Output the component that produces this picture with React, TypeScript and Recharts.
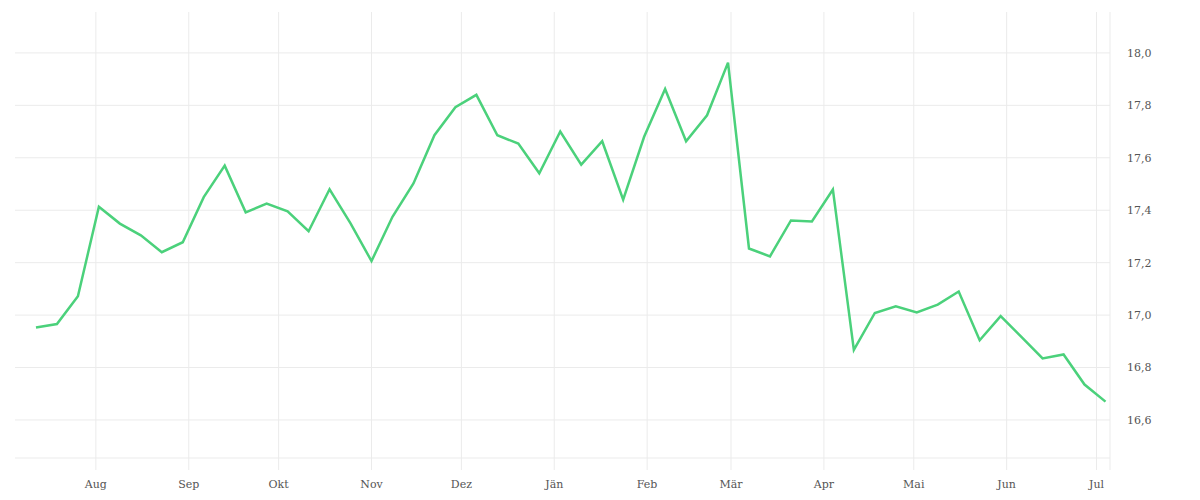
import { LineChart, Line, XAxis, YAxis, CartesianGrid } from 'recharts';

const dates = [
  '2022-07-12', '2022-07-19', '2022-07-26', '2022-08-02', '2022-08-09', '2022-08-16',
  '2022-08-23', '2022-08-30', '2022-09-06', '2022-09-13', '2022-09-20', '2022-09-27',
  '2022-10-04', '2022-10-11', '2022-10-18', '2022-10-25', '2022-11-01', '2022-11-08',
  '2022-11-15', '2022-11-22', '2022-11-29', '2022-12-06', '2022-12-13', '2022-12-20',
  '2022-12-27', '2023-01-03', '2023-01-10', '2023-01-17', '2023-01-24', '2023-01-31',
  '2023-02-07', '2023-02-14', '2023-02-21', '2023-02-28', '2023-03-07', '2023-03-14',
  '2023-03-21', '2023-03-28', '2023-04-04', '2023-04-11', '2023-04-18', '2023-04-25',
  '2023-05-02', '2023-05-09', '2023-05-16', '2023-05-23', '2023-05-30', '2023-06-06',
  '2023-06-13', '2023-06-20', '2023-06-27', '2023-07-04',
];

const values = [
  16.953, 16.966, 17.072, 17.413, 17.349, 17.304, 17.24, 17.278, 17.45, 17.57,
  17.392, 17.425, 17.396, 17.32, 17.48, 17.35, 17.206, 17.375, 17.502, 17.686,
  17.793, 17.84, 17.686, 17.654, 17.541, 17.7, 17.574, 17.663, 17.44, 17.68,
  17.862, 17.663, 17.762, 17.963, 17.254, 17.224, 17.361, 17.357, 17.479, 16.867,
  17.008, 17.034, 17.01, 17.04, 17.09, 16.904, 16.996, 16.916, 16.835, 16.85,
  16.735, 16.67,
];

const monthNames = ['Jän', 'Feb', 'Mär', 'Apr', 'Mai', 'Jun', 'Jul', 'Aug', 'Sep', 'Okt', 'Nov', 'Dez'];

const monthTicks = [
  '2022-08-01', '2022-09-01', '2022-10-01', '2022-11-01', '2022-12-01', '2023-01-01',
  '2023-02-01', '2023-03-01', '2023-04-01', '2023-05-01', '2023-06-01', '2023-07-01',
];

const yTicks = [16.6, 16.8, 17.0, 17.2, 17.4, 17.6, 17.8, 18.0];

const xStart = Date.UTC(2022, 6, 5);
const xEnd = Date.UTC(2023, 6, 5, 12);

const data = dates.map((d, i) => ({ t: Date.parse(d), v: values[i] }));
// last tick is the right edge of the plot: gives the closing grid line, no label
const xTicks = [...monthTicks.map((d) => Date.parse(d)), xEnd];

const gridColor = '#ebebeb';
const labelFont = { fill: '#555', fontSize: 11, fontFamily: 'DejaVu Serif' };

export default function App() {
  return (
    <div style={{ position: 'absolute', left: 0, top: 0, width: 1200, height: 500, background: '#fff' }}>
      <LineChart width={1200} height={500} data={data} margin={{ top: 12, right: 0, left: 15, bottom: 0 }}>
        <CartesianGrid stroke={gridColor} syncWithTicks={true} />
        <XAxis
          dataKey="t"
          type="number"
          scale="time"
          domain={[xStart, xEnd]}
          ticks={xTicks}
          interval={0}
          height={42}
          axisLine={{ stroke: gridColor }}
          tickLine={{ stroke: gridColor }}
          tickSize={12}
          tickMargin={10}
          tick={labelFont}
          tickFormatter={(t: number) => (t === xEnd ? '' : monthNames[new Date(t).getUTCMonth()])}
        />
        <YAxis
          orientation="right"
          domain={[16.455, 18.156]}
          ticks={yTicks}
          width={90}
          axisLine={false}
          tickLine={false}
          tickMargin={11}
          tick={labelFont}
          tickFormatter={(v: number) => v.toFixed(1).replace('.', ',')}
        />
        <Line
          type="linear"
          dataKey="v"
          stroke="#4bd17b"
          strokeWidth={2.5}
          dot={false}
          isAnimationActive={false}
        />
      </LineChart>
    </div>
  );
}
